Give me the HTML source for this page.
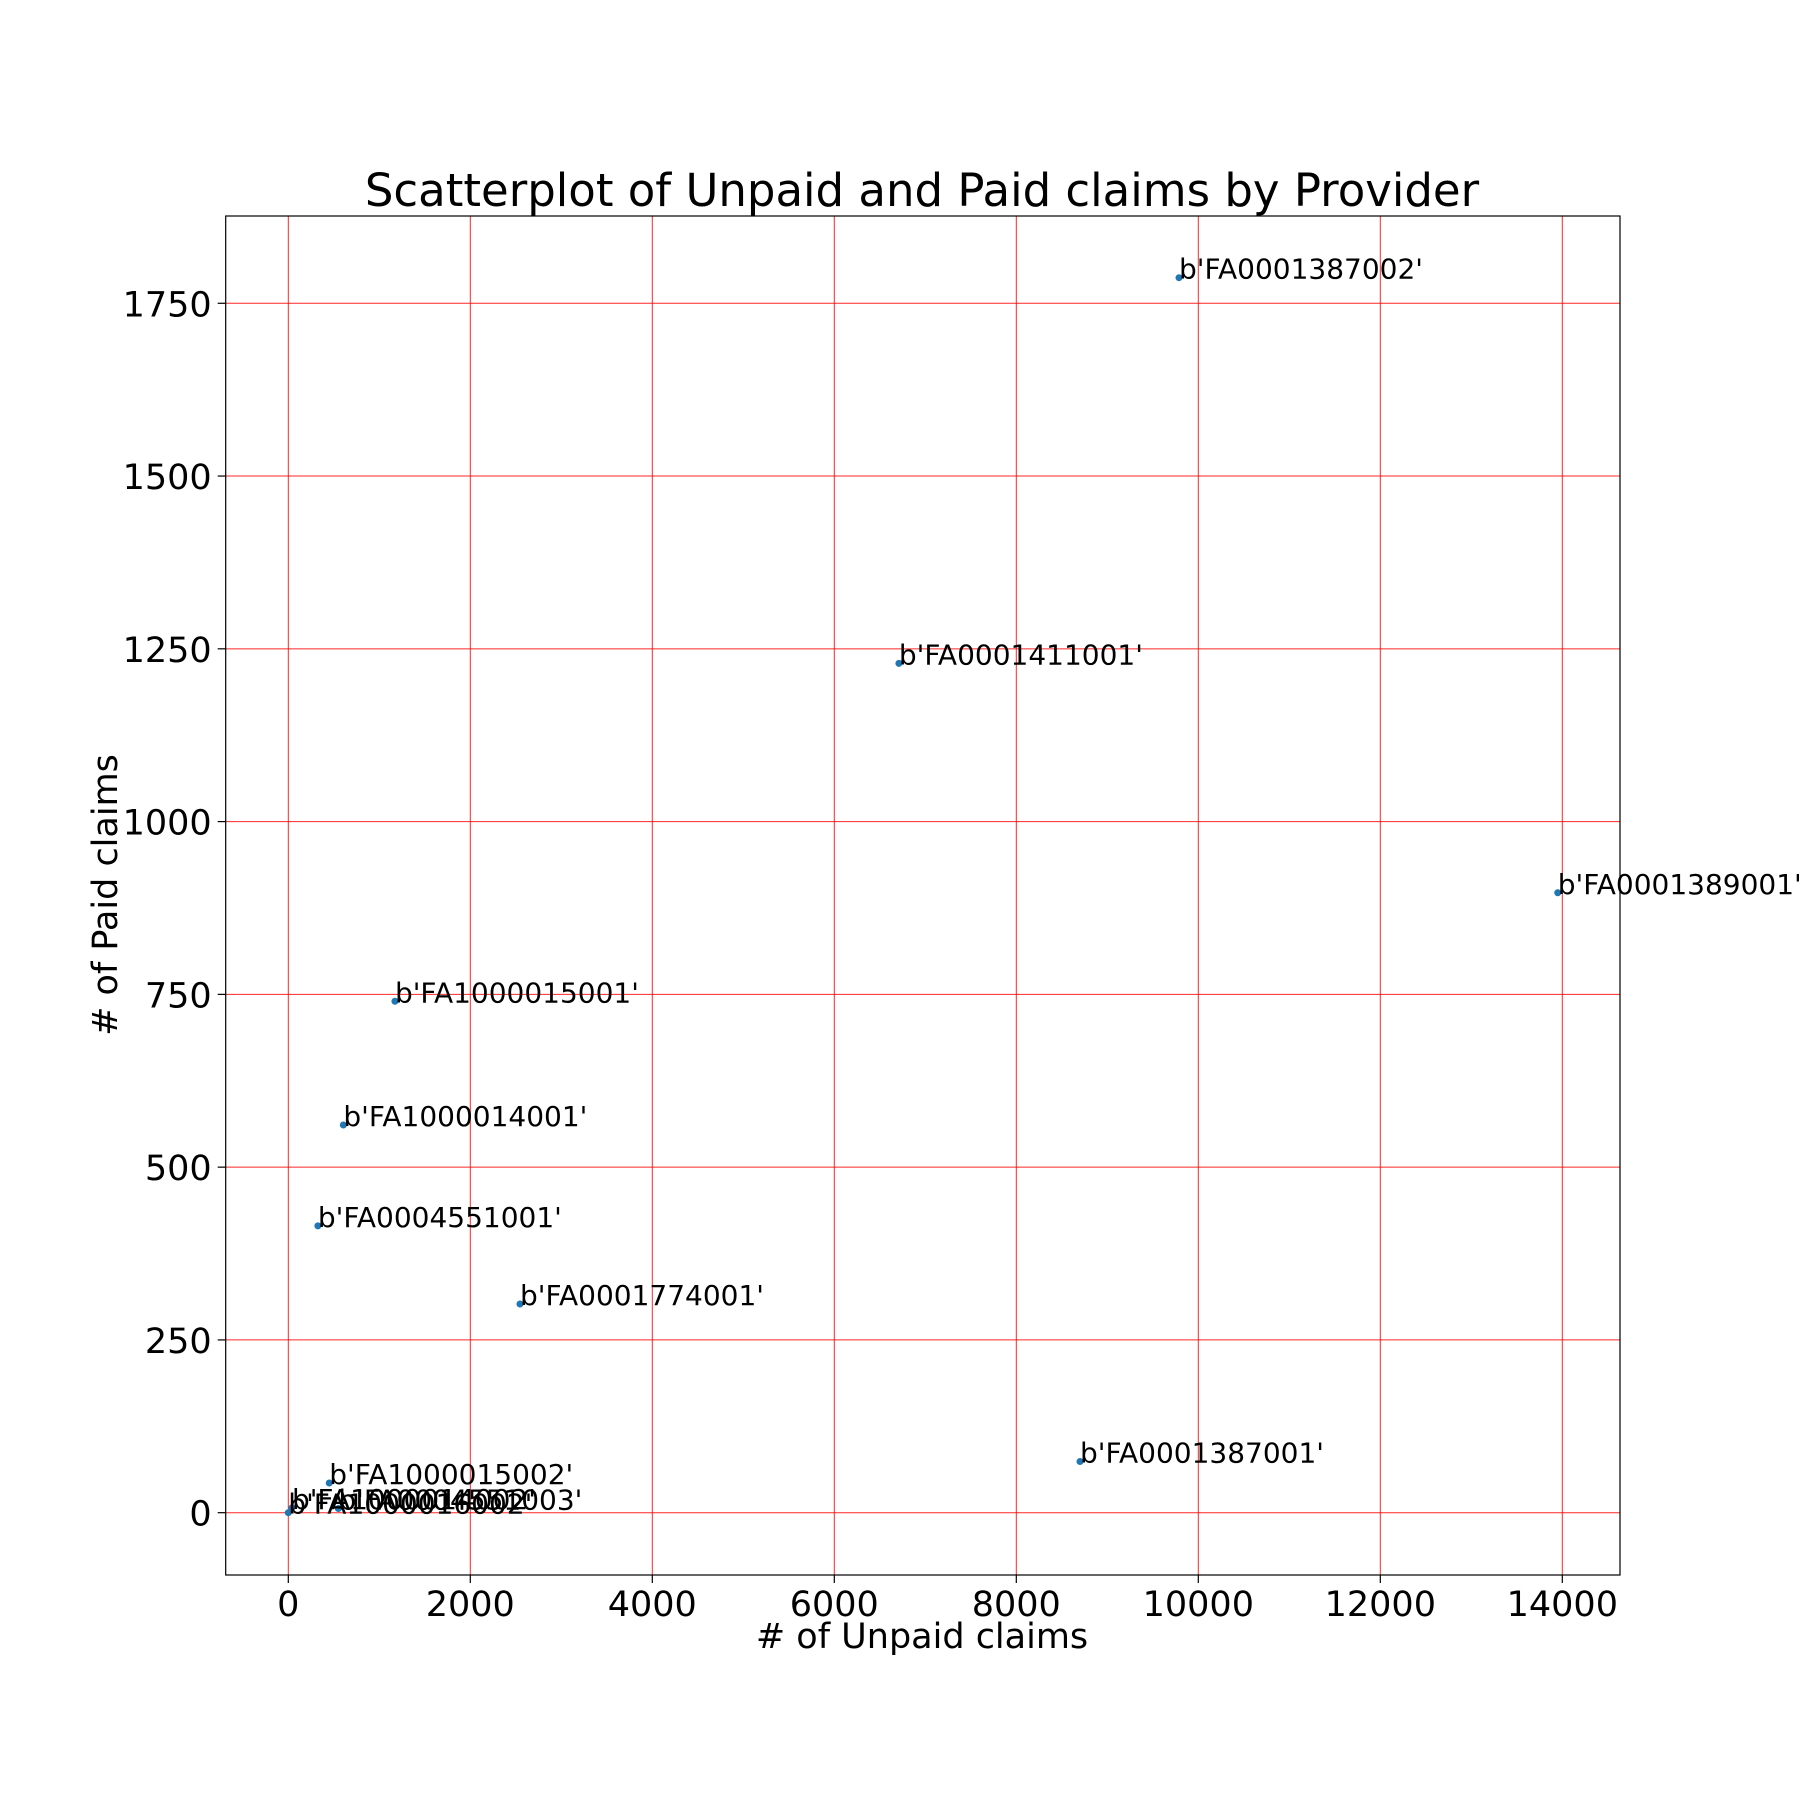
<!DOCTYPE html>
<html><head><meta charset="utf-8"><style>
body{margin:0;background:#fff}
svg{display:block;font-family:"DejaVu Sans","Liberation Sans",sans-serif}
</style></head><body>
<svg id="chart" width="1800" height="1800" viewBox="0 0 1800 1800">
<rect width="1800" height="1800" fill="#fff"/>
<text x="922" y="206" font-size="45" text-anchor="middle">Scatterplot of Unpaid and Paid claims by Provider</text>
<g id="grid"></g>
<g id="ticks"></g>
<g id="points"></g>
<rect x="225.7" y="216" width="1394.3" height="1359" fill="none" stroke="#000" stroke-width="1.2"/>
<text x="922" y="1648" font-size="35" text-anchor="middle"># of Unpaid claims</text>
<text transform="translate(117,895) rotate(-90)" font-size="35" text-anchor="middle"># of Paid claims</text>
</svg>
<script>
const labels=["b'FA0001387002'","b'FA0001411001'","b'FA0001389001'","b'FA1000015001'","b'FA1000014001'","b'FA0004551001'","b'FA0001774001'","b'FA0001387001'","b'FA1000015002'","b'FA0004551003'","b'FA1000014002'","b'FA1000016002'"];
const unpaid=[9788,6710,13950,1172,605,325,2546,8700,450,550,40,0];
const paid=[1787,1229,897,740,561,415,302,74,43,6,7,0];
const xTicks=[0,2000,4000,6000,8000,10000,12000,14000];
const yTicks=[0,250,500,750,1000,1250,1500,1750];
const L=225.7,R=1620,T=216,B=1575;
const sx=v=>288.3+v*0.091;
const sy=v=>1512.7-v*0.6911;
const NS="http://www.w3.org/2000/svg";
function mk(tag,attrs,parent){const e=document.createElementNS(NS,tag);for(const k in attrs)e.setAttribute(k,attrs[k]);parent.appendChild(e);return e;}
const g=document.getElementById('grid'),tk=document.getElementById('ticks'),pt=document.getElementById('points');
xTicks.forEach(v=>{
 const x=sx(v);
 const l=mk('line',{x1:x,x2:x,y1:T,y2:B,stroke:'#ff0000','stroke-width':1,'stroke-opacity':0.85},g);
 
 
 const t=mk('line',{x1:x,x2:x,y1:B,y2:B+8,stroke:'#000','stroke-width':1.2},tk);
 
 
 const tx=mk('text',{x:x,y:B+41,'font-size':35,'text-anchor':'middle'},tk);
 tx.textContent=v;
 
 
});
yTicks.forEach(v=>{
 const y=sy(v);
 const l=mk('line',{x1:L,x2:R,y1:y,y2:y,stroke:'#ff0000','stroke-width':1,'stroke-opacity':0.85},g);
 
 
 const t=mk('line',{x1:L-8,x2:L,y1:y,y2:y,stroke:'#000','stroke-width':1.2},tk);
 
 
 const tx=mk('text',{x:L-14,y:y+13,'font-size':35,'text-anchor':'end'},tk);
 tx.textContent=v;
 
 
});
labels.forEach((lab,i)=>{
 const x=sx(unpaid[i]),y=sy(paid[i]);
 const c=mk('circle',{cx:x,cy:y,r:3.5,fill:'#1f77b4'},pt);
 
 
 const t=mk('text',{x:x,y:y+1,'font-size':28},pt);
 t.textContent=lab;
 
 
});
</script>
</body></html>
